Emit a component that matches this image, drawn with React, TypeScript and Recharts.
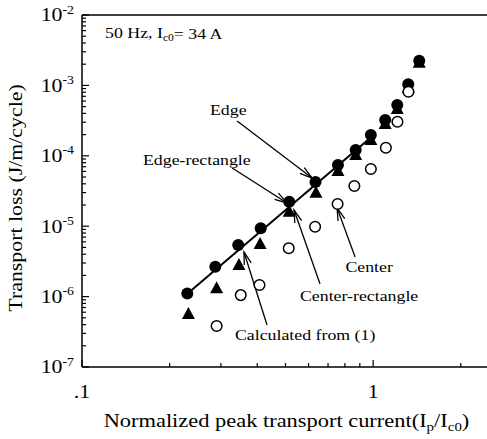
import { ComposedChart, Scatter, XAxis, YAxis, ReferenceLine, ReferenceDot } from 'recharts'

const SERIF = "'Liberation Serif', 'Times New Roman', serif"
const INK = '#000'
const SX = 1.15 // the scanned type is a little wider than Times

// normalized peak current Ip/Ic0 and transport loss (J/m/cycle)
const edgeX = [0.23, 0.287, 0.344, 0.411, 0.515, 0.634, 0.757, 0.871, 0.982, 1.1, 1.21, 1.32, 1.44]
const edgeY = [1.11e-6, 2.66e-6, 5.41e-6, 9.33e-6, 2.23e-5, 4.25e-5, 7.4e-5, 1.21e-4, 1.97e-4, 3.23e-4, 5.27e-4, 1.04e-3, 2.24e-3]

const edgeRectX = [0.232, 0.29, 0.346, 0.409, 0.515, 0.636, 0.757, 0.871, 0.982, 1.1, 1.21, 1.32, 1.44]
const edgeRectY = [5.66e-7, 1.31e-6, 2.81e-6, 5.58e-6, 1.61e-5, 2.99e-5, 6.08e-5, 1.03e-4, 1.68e-4, 2.83e-4, 4.62e-4, 9.18e-4, 2.1e-3]

const centerX = [0.29, 0.351, 0.407, 0.513, 0.632, 0.755, 0.862, 0.982, 1.106, 1.212, 1.322]
const centerY = [3.82e-7, 1.05e-6, 1.46e-6, 4.85e-6, 9.84e-6, 2.07e-5, 3.72e-5, 6.49e-5, 1.3e-4, 3.05e-4, 8.14e-4]

const calcX = [0.23, 1.0]
const calcY = [1.1e-6, 1.94e-4]

const xMajor = [0.1, 1]
const xMajorLabels = ['.1', '1']
const xMinor = [0.2, 0.3, 0.4, 0.5, 0.6, 0.7, 0.8, 0.9, 2]
const yMajor = [1e-7, 1e-6, 1e-5, 1e-4, 1e-3, 1e-2]
const yMinorSteps = [2, 3, 4, 5, 6, 7, 8, 9]

// annotation text and arrows, in data units
const notes = [
  { text: 'Edge', x: 0.318, y: 4.48e-4 },
  { text: 'Edge-rectangle', x: 0.248, y: 8.72e-5 },
  { text: 'Center', x: 0.969, y: 2.63e-6 },
  { text: 'Center-rectangle', x: 0.895, y: 1.02e-6 },
  { text: 'Calculated from (1)', x: 0.584, y: 2.85e-7 },
]
const arrows = [
  { from: [0.341, 3.12e-4], to: [0.617, 4.84e-5] },
  { from: [0.328, 6.71e-5], to: [0.506, 2.14e-5] },
  { from: [0.867, 3.65e-6], to: [0.752, 1.81e-5] },
  { from: [0.657, 1.51e-6], to: [0.535, 1.7e-5] },
  { from: [0.432, 3.95e-7], to: [0.36, 4.3e-6] },
]
const header = { x: 0.12, y: 5.55e-3 }

const pts = (xs: number[], ys: number[]) => xs.map((x, i) => ({ x, y: ys[i] }))

const xTicks = [...xMajor, ...xMinor].sort((a, b) => a - b)
const yTicks = yMajor.flatMap((d, i) => (i < yMajor.length - 1 ? [d, ...yMinorSteps.map((s) => s * d)] : [d]))

const XTick = ({ x, y, payload }: any) => {
  const idx = xMajor.indexOf(payload.value)
  const major = idx >= 0
  return (
    <g>
      <line x1={x} x2={x} y1={y} y2={y - (major ? 7 : 4)} stroke={INK} strokeWidth={1.2} />
      {major && (
        <text
          transform={`translate(${x},${y + 25}) scale(${SX},1)`}
          textAnchor="middle"
          dominantBaseline="central"
          fontFamily={SERIF}
          fontSize={19}
          fill={INK}
        >
          {xMajorLabels[idx]}
        </text>
      )}
    </g>
  )
}

const YTick = ({ x, y, payload }: any) => {
  const major = yMajor.includes(payload.value)
  const exp = Math.round(Math.log10(payload.value))
  return (
    <g>
      <line x1={x} x2={x + (major ? 7 : 4)} y1={y} y2={y} stroke={INK} strokeWidth={1.2} />
      {major && (
        <text
          transform={`translate(${x - 8},${y}) scale(${SX},1)`}
          textAnchor="end"
          dominantBaseline="central"
          fontFamily={SERIF}
          fontSize={19}
          fill={INK}
        >
          10
          <tspan fontSize={12} dy={-6}>
            {exp}
          </tspan>
        </text>
      )}
    </g>
  )
}

const Arrow = ({ x1, y1, x2, y2 }: any) => {
  const a = Math.atan2(y2 - y1, x2 - x1)
  const L = 13
  const w = 0.28
  const h1 = `${x2 - L * Math.cos(a - w)},${y2 - L * Math.sin(a - w)}`
  const h2 = `${x2 - L * Math.cos(a + w)},${y2 - L * Math.sin(a + w)}`
  return (
    <g stroke={INK} strokeWidth={1.3} fill="none">
      <line x1={x1} y1={y1} x2={x2} y2={y2} />
      <polyline points={`${h1} ${x2},${y2} ${h2}`} />
    </g>
  )
}

const dot = ({ cx, cy }: any) => <circle cx={cx} cy={cy} r={6} fill={INK} />
const ring = ({ cx, cy }: any) => <circle cx={cx} cy={cy} r={5.3} fill="#fff" stroke={INK} strokeWidth={1.5} />
const tri = ({ cx, cy }: any) => (
  <polygon points={`${cx},${cy - 7} ${cx - 6.5},${cy + 5} ${cx + 6.5},${cy + 5}`} fill={INK} />
)

const XTitle = ({ viewBox }: any) => (
  <text
    transform={`translate(${viewBox.x + viewBox.width / 2 + 1},${viewBox.y + 54}) scale(${SX},1)`}
    textAnchor="middle"
    dominantBaseline="central"
    fontFamily={SERIF}
    fontSize={19.5}
    fill={INK}
  >
    Normalized peak transport current(I
    <tspan fontSize={13} dy={5}>p</tspan>
    <tspan dy={-5}>/I</tspan>
    <tspan fontSize={13} dy={5}>c0</tspan>
    <tspan dy={-5}>)</tspan>
  </text>
)

const YTitle = ({ viewBox }: any) => (
  <text
    transform={`translate(${viewBox.x + viewBox.width - 66},${viewBox.y + viewBox.height / 2 + 7}) rotate(-90) scale(${SX},1)`}
    textAnchor="middle"
    dominantBaseline="central"
    fontFamily={SERIF}
    fontSize={19}
    fill={INK}
  >
    Transport loss (J/m/cycle)
  </text>
)

export default function App() {
  return (
    <div style={{ position: 'absolute', left: 0, top: 0, width: 487, height: 439, overflow: 'hidden', background: '#fff' }}>
      <ComposedChart width={490} height={439} margin={{ top: 15, right: 1, bottom: 71, left: 81 }}>
        <XAxis
          dataKey="x"
          type="number"
          scale="log"
          domain={[0.1, 2.5]}
          allowDataOverflow
          ticks={xTicks}
          interval={0}
          height={1}
          tickSize={0}
          tickMargin={0}
          tickLine={false}
          axisLine={{ stroke: INK, strokeWidth: 1.5 }}
          tick={<XTick />}
          label={{ content: <XTitle /> } as any}
        />
        <YAxis
          dataKey="y"
          type="number"
          scale="log"
          domain={[1e-7, 1e-2]}
          allowDataOverflow
          ticks={yTicks}
          interval={0}
          width={1}
          tickSize={0}
          tickMargin={0}
          tickLine={false}
          axisLine={{ stroke: INK, strokeWidth: 1.5 }}
          tick={<YTick />}
          label={{ content: <YTitle /> } as any}
        />
        <ReferenceLine y={1e-2} stroke={INK} strokeWidth={1.5} />

        {arrows.map((a, i) => (
          <ReferenceLine
            key={i}
            segment={[
              { x: a.from[0], y: a.from[1] },
              { x: a.to[0], y: a.to[1] },
            ]}
            shape={(p: any) => <Arrow {...p} />}
          />
        ))}

        <Scatter data={pts(calcX, calcY)} line={{ stroke: INK, strokeWidth: 2 }} shape={() => <g />} isAnimationActive={false} />
        <Scatter data={pts(edgeRectX, edgeRectY)} shape={tri} isAnimationActive={false} />
        <Scatter data={pts(edgeX, edgeY)} shape={dot} isAnimationActive={false} />
        <Scatter data={pts(centerX, centerY)} shape={ring} isAnimationActive={false} />

        {notes.map((n) => (
          <ReferenceDot
            key={n.text}
            x={n.x}
            y={n.y}
            r={0}
            shape={(p: any) => (
              <text
                transform={`translate(${p.cx},${p.cy}) scale(${SX},1)`}
                textAnchor="middle"
                dominantBaseline="central"
                fontFamily={SERIF}
                fontSize={15.5}
                fill={INK}
              >
                {n.text}
              </text>
            )}
          />
        ))}
        <ReferenceDot
          x={header.x}
          y={header.y}
          r={0}
          shape={(p: any) => (
            <text
              transform={`translate(${p.cx},${p.cy}) scale(${SX},1)`}
              dominantBaseline="central"
              fontFamily={SERIF}
              fontSize={15.5}
              fill={INK}
            >
              50 Hz, I
              <tspan fontSize={10} dy={4}>c0</tspan>
              <tspan dy={-4}>= 34 A</tspan>
            </text>
          )}
        />
      </ComposedChart>
    </div>
  )
}
